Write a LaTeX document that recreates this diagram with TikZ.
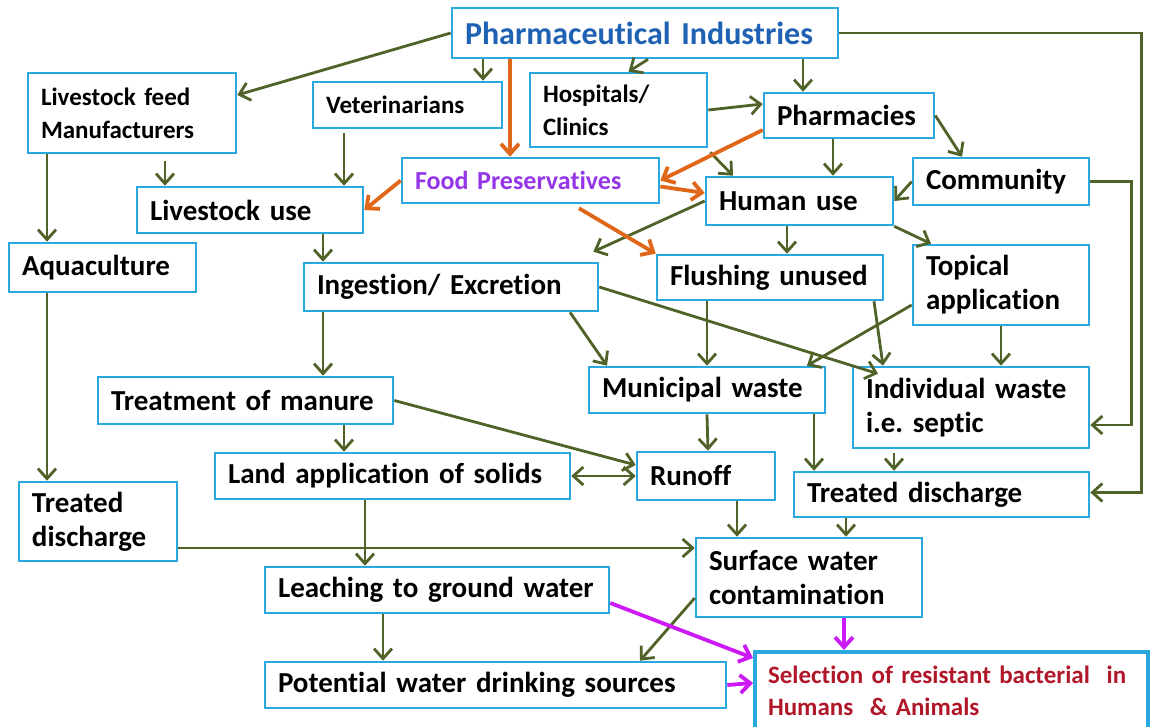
\documentclass[tikz,border=0pt]{standalone}
\usepackage{fontspec}
\setmainfont{Carlito}[Ligatures=NoCommon]
\usetikzlibrary{arrows.meta}
\definecolor{BoxBlue}{HTML}{2AA8E0}
\definecolor{OliveArrow}{HTML}{4F6228}
\definecolor{OrangeArrow}{HTML}{E0671A}
\definecolor{MagArrow}{HTML}{CC1AF5}
\definecolor{TitleBlue}{HTML}{1F62B4}
\definecolor{FoodPurple}{HTML}{9436E8}
\definecolor{DarkRed}{HTML}{B0182A}
\frenchspacing
\begin{document}
\begin{tikzpicture}[x=0.5pt,y=-0.5pt,>={Straight Barb[length=5pt,width=9pt]},
  box/.style={draw=BoxBlue,line width=1.3pt,fill=white,align=left,inner xsep=6.5pt,inner ysep=2pt,
    font=\bfseries\fontsize{14.5}{17}\selectfont},
  small/.style={font=\bfseries\fontsize{12.5}{16.5}\selectfont},
  flow/.style={->,line width=1.4pt,OliveArrow},
  pflow/.style={->,line width=1.9pt,OrangeArrow},
  mflow/.style={->,line width=1.9pt,MagArrow}]
  \useasboundingbox[fill=white] (0,0) rectangle (1152,727);
  \node[box,text width=180pt,minimum height=25pt,text=TitleBlue,font=\bfseries\fontsize{16}{19}\selectfont] (ind) at (645,33) {Pharmaceutical Industries};
  \node[box,small,text width=91pt,minimum height=40pt] (lfm) at (132,113) {Livestock feed\\Manufacturers};
  \node[box,small,text width=81.5pt,minimum height=23pt] (vet) at (407.5,105) {Veterinarians};
  \node[box,small,text width=75.5pt,minimum height=37pt] (hosp) at (618.5,110) {Hospitals/\\Clinics};
  \node[box,text width=72pt,minimum height=22.5pt] (pharm) at (849,115.5) {Pharmacies};
  \node[box,text width=115.5pt,minimum height=22.5pt,text=FoodPurple,font=\bfseries\fontsize{13}{16}\selectfont] (food) at (530.5,180.5) {Food Preservatives};
  \node[box,text width=80.5pt,minimum height=24pt] (human) at (799.5,201) {Human use};
  \node[box,text width=75pt,minimum height=23.5pt] (comm) at (1001,181.5) {Community};
  \node[box,text width=100pt,minimum height=23pt] (lsuse) at (250,210) {Livestock use};
  \node[box,text width=80.5pt,minimum height=24.5pt] (aqua) at (102.5,267.5) {Aquaculture};
  \node[box,text width=134pt,minimum height=24pt] (ingest) at (451,287) {Ingestion/ Excretion};
  \node[box,text width=100pt,minimum height=22.5pt] (flush) at (770,277.5) {Flushing unused};
  \node[box,text width=75pt,minimum height=40pt] (topical) at (1001,285) {Topical\\application};
  \node[box,text width=134.5pt,minimum height=23.5pt] (treatm) at (245.5,400.5) {Treatment of manure};
  \node[box,text width=105pt,minimum height=23pt] (munic) at (707,390) {Municipal waste};
  \node[box,text width=105pt,minimum height=40.5pt] (indiv) at (971,407.5) {Individual waste\\i.e. septic};
  \node[box,text width=164.5pt,minimum height=23pt] (landapp) at (392.5,476) {Land application of solids};
  \node[box,text width=56pt,minimum height=24pt] (runoff) at (706,476) {Runoff};
  \node[box,text width=134.5pt,minimum height=22.5pt] (treatR) at (941.5,494.5) {Treated discharge};
  \node[box,text width=66pt,minimum height=39.5pt] (treatL) at (98,521.5) {Treated\\discharge};
  \node[box,text width=100pt,minimum height=39.5pt] (surface) at (809,577.5) {Surface water\\contamination};
  \node[box,text width=159pt,minimum height=23pt] (leach) at (437,590) {Leaching to ground water};
  \node[box,text width=217.5pt,minimum height=23pt] (potw) at (495.5,685) {Potential water drinking sources};
  \node[box,text width=183.5pt,minimum height=39pt,line width=2pt,text=DarkRed,font=\bfseries\fontsize{12.5}{16}\selectfont] (select) at (951.5,691) {Selection of resistant bacterial~ in\\Humans~ \& Animals};
  \draw[flow] (ind.west) -- ([yshift=9pt]lfm.east);
  \draw[flow] ([xshift=-81pt]ind.south) -- ([xshift=37.75pt]vet.north);
  \draw[flow] ([xshift=1.5pt]ind.south) -- ([xshift=5pt]hosp.north);
  \draw[flow] ([xshift=79pt]ind.south) -- ([xshift=-23pt]pharm.north);
  \draw[flow] (ind.east) -- ++(151pt,0) |- ([yshift=1pt]treatR.east);
  \draw[flow] (comm.east) -- ++(20.5pt,0) |- ([yshift=-8.75pt]indiv.east);
  \draw[flow] (hosp.east) -- ([yshift=5.75pt]pharm.west);
  \draw[flow] (pharm.east) -- ([xshift=-19.5pt]comm.north);
  \draw[flow] ([xshift=-8pt]pharm.south) -- ([xshift=16.75pt]human.north);
  \draw[flow] ([shift={(1pt,-2pt)}]hosp.south east) -- ([xshift=-33.25pt]human.north);
  \draw[flow] (comm.west) -- (human.east);
  \draw[flow] (human.west) -- ([shift={(-3pt,5pt)}]ingest.north east);
  \draw[flow] ([xshift=-6.25pt]human.south) -- ([xshift=8.5pt]flush.north);
  \draw[flow] (human.south east) -- ([xshift=-35pt]topical.north);
  \draw[flow] ([xshift=-42.5pt]lfm.south) -- ([xshift=-27.75pt]aqua.north);
  \draw[flow] ([shift={(16.5pt,-3.5pt)}]lfm.south) -- ([xshift=-42.5pt]lsuse.north);
  \draw[flow] ([shift={(-31.75pt,-2pt)}]vet.south) -- ([xshift=47pt]lsuse.north);
  \draw[flow] ([xshift=36.5pt]lsuse.south) -- ([xshift=-64pt]ingest.north);
  \draw[flow] ([xshift=-27.75pt]aqua.south) -- ([xshift=-25.5pt]treatL.north);
  \draw[flow] ([xshift=-64pt]ingest.south) -- ([xshift=38.75pt]treatm.north);
  \draw[flow] ([xshift=59.5pt]ingest.south) -- ([xshift=-50pt]munic.north);
  \draw[flow] (ingest.east) -- ([shift={(-46.5pt,-4pt)}]indiv.north);
  \draw[flow] ([xshift=-31.5pt]flush.south) -- (munic.north);
  \draw[flow] ([xshift=52pt]flush.south) -- ([xshift=-44pt]indiv.north);
  \draw[flow] ([yshift=-10pt]topical.west) -- ([xshift=50pt]munic.north);
  \draw[flow] (topical.south) -- ([xshift=15pt]indiv.north);
  \draw[flow] (munic.south) -- ([xshift=1pt]runoff.north);
  \draw[flow] ([xshift=53.5pt]munic.south) -- ([xshift=-63.75pt]treatR.north);
  \draw[flow] ([shift={(-38.5pt,-2pt)}]indiv.south) -- ([xshift=-23.75pt]treatR.north);
  \draw[flow] (treatm.east) -- ([yshift=5.5pt]runoff.west);
  \draw[flow] ([xshift=49.25pt]treatm.south) -- ([xshift=-24.25pt]landapp.north);
  \draw[flow,<->] (landapp.east) -- (runoff.west);
  \draw[flow] ([xshift=15.5pt]runoff.south) -- ([xshift=-36pt]surface.north);
  \draw[flow] ([xshift=-47.75pt]treatR.south) -- ([xshift=18.5pt]surface.north);
  \draw[flow] ([yshift=-13.25pt]treatL.east) -- ([yshift=14.75pt]surface.west);
  \draw[flow] ([xshift=-13.75pt]landapp.south) -- ([xshift=-36pt]leach.north);
  \draw[flow] ([xshift=-27pt]leach.south) -- ([xshift=-56.25pt]potw.north);
  \draw[flow] ([yshift=-10.25pt]surface.west) -- ([xshift=72.25pt]potw.north);
  \draw[pflow] ([xshift=-67.5pt]ind.south) -- ([xshift=-10.25pt]food.north);
  \draw[pflow] (food.west) -- (lsuse.east);
  \draw[pflow] ([yshift=-7.25pt]pharm.west) -- (food.east);
  \draw[pflow] ([yshift=-3pt]food.east) -- ([yshift=4pt]human.west);
  \draw[pflow] ([shift={(24.25pt,-2pt)}]food.south) -- (flush.north west);
  \draw[mflow] ([yshift=-6.5pt]leach.east) -- ([yshift=-4pt]select.north west);
  \draw[mflow] (potw.east) -- ([yshift=4pt]select.west);
  \draw[mflow] ([xshift=17.5pt]surface.south) -- ([xshift=-53.75pt]select.north);
\end{tikzpicture}
\end{document}
